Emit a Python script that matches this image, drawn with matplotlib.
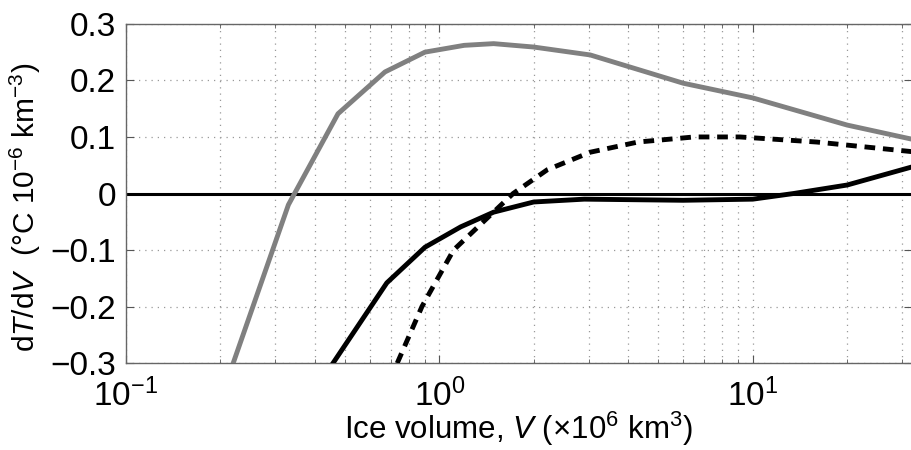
import numpy as np
import matplotlib.pyplot as plt

plt.rcParams['font.family'] = ['Liberation Sans', 'DejaVu Sans']
plt.rcParams['mathtext.fontset'] = 'custom'
plt.rcParams['mathtext.rm'] = 'Liberation Sans'
plt.rcParams['mathtext.it'] = 'Liberation Sans:italic'

# gray curve
vGray = np.array([0.22, 0.33, 0.475, 0.671, 0.90, 1.2, 1.49, 2.0, 3.03, 6.0, 10.0, 20.0, 32.2])
gGray = np.array([-0.30, -0.02, 0.141, 0.215, 0.250, 0.262, 0.265, 0.259, 0.245, 0.195, 0.169, 0.121, 0.096])

# dashed curve
vDash = np.array([0.734, 0.88, 1.11, 1.72, 2.21, 3.03, 4.3, 6.5, 9.1, 16.0, 32.2])
gDash = np.array([-0.30, -0.20, -0.10, 0.0, 0.042, 0.073, 0.091, 0.100, 0.100, 0.091, 0.074])

# solid black curve
vBlack = np.array([0.458, 0.68, 0.90, 1.17, 1.49, 2.0, 2.9, 6.0, 10.0, 13.5, 20.0, 32.2])
gBlack = np.array([-0.30, -0.158, -0.095, -0.059, -0.033, -0.015, -0.010, -0.012, -0.010, 0.0, 0.015, 0.047])

fig = plt.figure(figsize=(9.12, 4.5), dpi=100)
ax = fig.add_axes([0.138, 0.193, 0.862, 0.754])

ax.axhline(0, color='black', lw=2.2, zorder=2)
ax.plot(vGray, gGray, color='#808080', lw=3.5, zorder=3)
ax.plot(vDash, gDash, color='black', lw=3.5, dashes=(2.2, 1.6), zorder=3)
ax.plot(vBlack, gBlack, color='black', lw=3.5, zorder=3)

ax.set_xscale('log')
ax.set_xlim(0.1, 32.2)
ax.set_ylim(-0.3, 0.3)
ax.set_yticks([-0.3, -0.2, -0.1, 0, 0.1, 0.2, 0.3])
ax.set_yticklabels(['\u22120.3', '\u22120.2', '\u22120.1', '0', '0.1', '0.2', '0.3'])

ax.grid(True, which='both', axis='x', color='#999999', ls=(0, (1, 4)), lw=0.9)
ax.grid(True, which='major', axis='y', color='#999999', ls=(0, (1, 4)), lw=0.9)

ax.tick_params(which='both', direction='in', top=True, right=True, color='#555555')
ax.tick_params(which='major', length=6, labelsize=24)
ax.tick_params(axis='y', pad=7)
ax.tick_params(axis='x', pad=11)
ax.tick_params(which='minor', length=3)
for s in ax.spines.values():
    s.set_color('#666666')
    s.set_linewidth(1.0)

ax.set_xlabel(r'Ice volume, $\it{V}$ ($\times$10$^{6}$ km$^{3}$)', fontsize=22.5, labelpad=-2)
ax.set_ylabel(r'd$\it{T}$/d$\it{V}$  ($\degree$C 10$^{-6}$ km$^{-3}$)', fontsize=21.5)
ax.yaxis.set_label_coords(-0.106, 0.46)

fig.savefig('out.png', dpi=100)
